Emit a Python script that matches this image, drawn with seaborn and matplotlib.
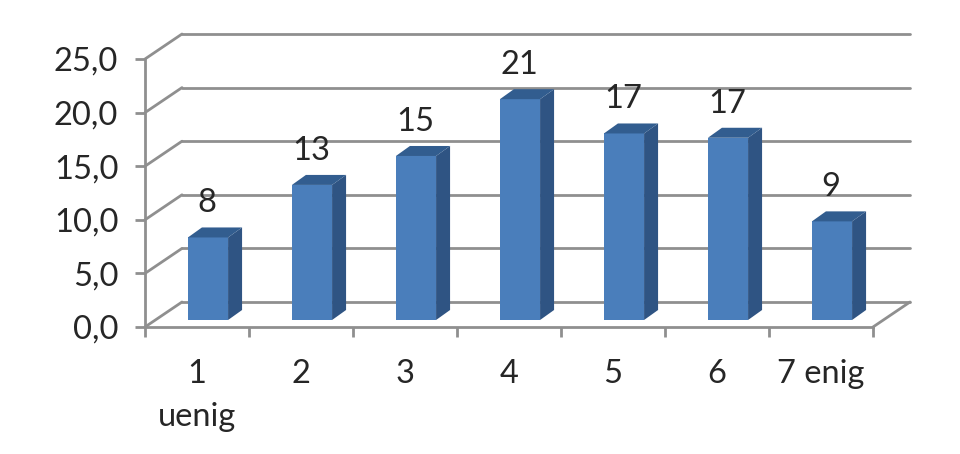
import matplotlib
matplotlib.use("Agg")
import matplotlib.pyplot as plt
import seaborn as sns
from matplotlib.patches import Polygon
from matplotlib.transforms import Affine2D

categories = ["1\nuenig", "2", "3", "4", "5", "6", "7 enig"]
values = [7.7, 12.6, 15.3, 20.6, 17.4, 17.0, 9.2]
labels = ["8", "13", "15", "21", "17", "17", "9"]
yticks = [0, 5, 10, 15, 20, 25]

FRONT = "#4a7ebb"
SIDE = "#2f5483"
TOP = "#325d8f"
GRID = "#8f8f8f"
AXIS = "#8f8f8f"
TEXT = "#262626"
DEPTH = (37, 25)         # wall offset, pixels
BAR_SHIFT = (11, 7)      # bar plane offset, pixels
BAR_DEPTH = (14, 10)
FS = 23.5

sns.set_theme(style="white", rc={"font.family": ["Lato", "DejaVu Sans"]})
W, H = 960, 454
fig = plt.figure(figsize=(W / 100, H / 100), dpi=100, facecolor="white")
ax = fig.add_axes([145 / W, 1 - 327 / H, (873 - 145) / W, (327 - 59) / H])
ax.patch.set_alpha(0)
sns.barplot(x=list(range(len(values))), y=values, color=FRONT, saturation=1,
            width=0.386, ax=ax, zorder=3)
ax.set_xlim(-0.5, len(values) - 0.5)
ax.set_ylim(0, 25)
fig.canvas.draw()

wall = ax.transData + Affine2D().translate(*DEPTH)
bar_tr = ax.transData + Affine2D().translate(*BAR_SHIFT)
x0, x1 = ax.get_xlim()


def link(p):
    line = plt.Line2D([p[0], p[0] + DEPTH[0]], [p[1], p[1] + DEPTH[1]],
                      transform=None, color=GRID, lw=2, zorder=1)
    ax.add_line(line)
    line.set_clip_on(False)


for t in yticks:
    ax.plot([x0, x1], [t, t], transform=wall, color=GRID, lw=2, clip_on=False, zorder=1)
    link(ax.transData.transform((x0, t)))
link(ax.transData.transform((x1, 0)))

bars = list(ax.patches)
for bar, lab in zip(bars, labels):
    bar.set_transform(bar_tr)
    bar.set_clip_on(False)
    bar.set_linewidth(0)
    xa, xb = bar.get_x(), bar.get_x() + bar.get_width()
    h = bar.get_height()
    a = bar_tr.transform((xa, h))
    b = bar_tr.transform((xb, h))
    c = bar_tr.transform((xb, 0))
    dx, dy = BAR_DEPTH
    ax.add_patch(Polygon([b, b + (dx, dy), c + (dx, dy), c], closed=True, transform=None,
                         facecolor=SIDE, edgecolor="none", zorder=3, clip_on=False))
    ax.add_patch(Polygon([a, a + (dx, dy), b + (dx, dy), b], closed=True, transform=None,
                         facecolor=TOP, edgecolor="none", zorder=3, clip_on=False))
    ax.annotate(lab, xy=(xa + (xb - xa) / 2, h), xycoords=bar_tr,
                xytext=(-1, 34), textcoords="offset pixels", ha="center", va="center",
                fontsize=FS, color=TEXT, zorder=5)

sns.despine(ax=ax, top=True, right=True)
for s in ("left", "bottom"):
    ax.spines[s].set_color(AXIS)
    ax.spines[s].set_linewidth(2)
ax.set_yticks(yticks)
ax.set_yticklabels([f"{t:.1f}".replace(".", ",") for t in yticks], fontsize=FS, color=TEXT)
ax.set_xticks([i - 0.5 for i in range(len(values) + 1)])
ax.set_xticklabels([""] * (len(values) + 1))
ax.tick_params(axis="y", length=7.2, width=2, color=AXIS, direction="out", left=True, pad=12)
ax.tick_params(axis="x", length=7.2, width=2, color=AXIS, direction="out", bottom=True)
for i, c in enumerate(categories):
    ax.annotate(c, xy=(i, 0), xycoords=ax.get_xaxis_transform(), xytext=(0, -32),
                textcoords="offset pixels", ha="center", va="top",
                fontsize=FS, color=TEXT, linespacing=1.55)

fig.savefig("out.png", dpi=100)
